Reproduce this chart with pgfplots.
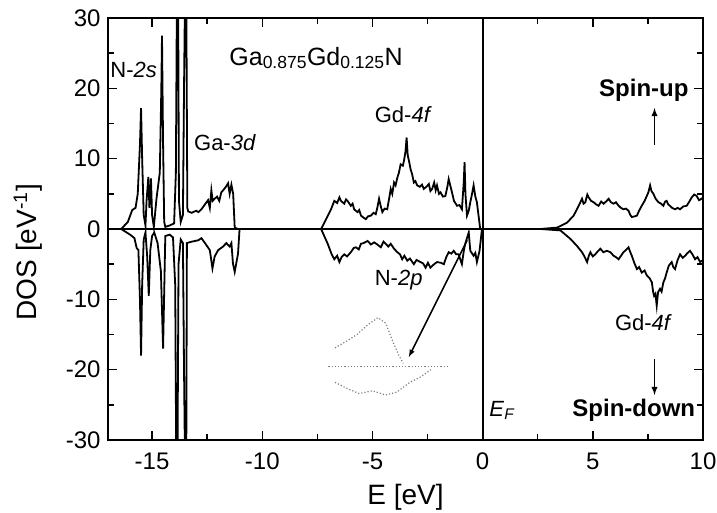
\documentclass[border=0pt]{standalone}
\usepackage{pgfplots}
\pgfplotsset{compat=1.18}
\usepackage{fontspec}
\setmainfont{Liberation Sans}

\begin{document}
\begin{tikzpicture}
\begin{axis}[
    name=ax,
    width=595pt, height=422pt, scale only axis,
    xmin=-17, xmax=10, ymin=-30, ymax=30,
    xtick={-15,-10,...,10}, ytick={-30,-20,...,30},
    minor x tick num=1, minor y tick num=1,
    tick align=inside,
    major tick length=9pt, minor tick length=6pt,
    axis line style={line width=1.8pt},
    every tick/.style={line width=1.5pt, black},
    tick label style={font=\fontsize{24}{28}\selectfont},
    /pgf/number format/assume math mode=true,
    xticklabel style={yshift=-9pt},
    yticklabel style={xshift=-4pt},
    xlabel={E [eV]},
    ylabel={DOS [eV\textsuperscript{-1}]},
    label style={font=\fontsize{28}{32}\selectfont},
    xlabel style={yshift=-8pt},
    ylabel style={at={(ticklabel cs:0.445)}, yshift=17pt},
]
% spin-up
\addplot[black, line width=1.8pt] coordinates {
(-17,0) (-16.4,0) (-16.1,1.0) (-15.9,2.7) (-15.75,3.0) (-15.65,5) (-15.55,12) (-15.5,17.2) (-15.45,10) (-15.38,2)
(-15.3,0.5) (-15.25,4) (-15.17,7.4) (-15.12,3) (-15.05,7.2) (-15.0,2) (-14.92,0.3) (-14.8,4.3) (-14.65,8)
(-14.58,20) (-14.55,27.5) (-14.5,12) (-14.45,1) (-14.4,0.3) (-14.2,0.5) (-14.0,0.8) (-13.92,8) (-13.87,35)
(-13.82,35) (-13.78,4) (-13.7,1) (-13.6,2) (-13.55,20) (-13.5,35) (-13.45,35) (-13.4,3) (-13.36,2.5)
(-13.2,2.3) (-13.0,2.6) (-12.9,2.4) (-12.76,2.8) (-12.6,3.5) (-12.46,4.1) (-12.38,3.0) (-12.31,5.5)
(-12.25,4.0) (-12.16,4.3) (-12.05,4.6) (-11.95,4.0) (-11.86,5.2) (-11.75,5.6) (-11.65,6.0) (-11.55,6.5)
(-11.48,5.0) (-11.4,6.3) (-11.32,5.0) (-11.25,0.2) (-11.1,0)
(-7.33,0) (-7.10,1.4) (-6.88,2.8) (-6.73,4.0) (-6.6,3.7) (-6.50,4.5) (-6.43,4.0) (-6.28,3.6) (-6.2,4.2) (-6.13,4.0)
(-5.98,3.3) (-5.9,3.6) (-5.83,2.8) (-5.68,2.4) (-5.6,2.7) (-5.52,1.9) (-5.4,1.6) (-5.30,1.4) (-5.2,1.8) (-5.07,1.9)
(-4.95,2.3) (-4.85,2.1) (-4.78,3.0) (-4.70,4.3) (-4.62,3.2) (-4.55,2.4) (-4.45,2.9) (-4.33,2.8) (-4.25,4.2)
(-4.17,5.7) (-4.1,5.0) (-4.02,6.6) (-3.95,6.2) (-3.87,7.3) (-3.8,8.0) (-3.72,9.2) (-3.62,9.0) (-3.57,9.7) (-3.5,11) (-3.45,13.0)
(-3.4,10.5) (-3.33,9.5) (-3.27,8.5) (-3.2,7.8) (-3.12,6.6) (-3.05,6.8) (-2.97,6.2) (-2.85,6.0) (-2.75,6.3) (-2.67,5.7)
(-2.55,6.0) (-2.44,6.4) (-2.37,5.4) (-2.29,5.7) (-2.2,6.6) (-2.13,5.5) (-2.07,6.2) (-1.98,5.0) (-1.91,5.2)
(-1.8,4.6) (-1.69,4.7) (-1.6,6.0) (-1.54,7.1) (-1.47,6.2) (-1.39,5.2) (-1.3,4.0) (-1.16,3.3) (-1.05,3.4)
(-0.94,2.8) (-0.86,6.5) (-0.82,9.5) (-0.78,5.0) (-0.71,1.9) (-0.63,2.6) (-0.56,3.8) (-0.48,5.0) (-0.41,6.2)
(-0.33,4.6) (-0.26,3.8) (-0.18,1.8) (-0.11,0)
(2.62,0) (3.38,0.2) (3.83,0.9) (4.13,1.9) (4.36,3.3) (4.51,4.3) (4.58,3.6) (4.66,3.8) (4.75,4.9) (4.81,4.5)
(4.92,4.0) (5.04,3.8) (5.15,3.5) (5.26,3.3) (5.38,3.9) (5.49,3.6) (5.6,3.9) (5.72,4.3) (5.82,3.8) (5.94,3.6)
(6.05,3.8) (6.17,3.3) (6.28,3.0) (6.39,2.8) (6.5,2.9) (6.62,2.6) (6.7,2.0) (6.77,1.7) (6.9,1.8) (7.00,1.9)
(7.1,2.6) (7.22,3.3) (7.35,4.0) (7.45,4.7) (7.52,5.2) (7.60,6.2) (7.66,5.4) (7.75,5.0) (7.85,4.3) (7.98,3.8)
(8.1,3.6) (8.20,3.3) (8.28,3.9) (8.35,4.0) (8.42,3.5) (8.50,3.3) (8.6,3.0) (8.73,2.8) (8.85,3.0) (8.96,2.8)
(9.1,3.2) (9.26,3.3) (9.38,3.9) (9.49,4.5) (9.6,4.9) (9.71,4.7) (9.82,4.1) (9.94,4.3) (10,4.5)
};
% spin-down
\addplot[black, line width=1.8pt] coordinates {
(-17,0) (-16.4,0) (-16.0,-0.8) (-15.8,-1.3) (-15.7,-2.7) (-15.62,-3) (-15.55,-10) (-15.5,-18.0) (-15.45,-8)
(-15.38,-1.5) (-15.3,-0.5) (-15.22,-4) (-15.15,-9.5) (-15.08,-3) (-15.0,-1) (-14.9,-0.5) (-14.75,-2)
(-14.6,-6) (-14.5,-17.0) (-14.45,-9) (-14.4,-1) (-14.2,-0.8) (-14.05,-1.2) (-13.95,-8) (-13.9,-35)
(-13.85,-35) (-13.8,-5) (-13.7,-1.5) (-13.6,-2) (-13.55,-20) (-13.5,-35) (-13.45,-35) (-13.42,-2.0)
(-13.2,-1.8) (-12.9,-1.6) (-12.76,-1.3) (-12.6,-2.0) (-12.38,-3.0) (-12.26,-5.6) (-12.16,-3.9)
(-12.0,-3.0) (-11.78,-2.5) (-11.63,-2.0) (-11.48,-2.5) (-11.4,-2.0) (-11.33,-4.9) (-11.25,-6.1)
(-11.1,-3.5) (-11.03,0)
(-7.33,0) (-7.03,-2.1) (-6.85,-3.6) (-6.73,-4.3) (-6.6,-3.8) (-6.50,-4.7) (-6.4,-4.0) (-6.28,-3.6) (-6.15,-3.9)
(-5.98,-3.3) (-5.85,-2.7) (-5.75,-2.6) (-5.62,-2.9) (-5.52,-2.1) (-5.4,-2.0) (-5.22,-1.7) (-5.07,-2.2)
(-4.92,-1.9) (-4.78,-2.2) (-4.62,-2.6) (-4.5,-1.8) (-4.40,-2.1) (-4.28,-2.5) (-4.17,-2.1) (-4.02,-2.8)
(-3.87,-3.3) (-3.75,-3.6) (-3.65,-4.3) (-3.55,-3.8) (-3.42,-4.5) (-3.3,-4.2) (-3.12,-5.0) (-3.0,-4.4)
(-2.82,-4.7) (-2.7,-4.9) (-2.59,-5.5) (-2.48,-4.8) (-2.37,-5.5) (-2.2,-5.0) (-2.07,-4.7) (-1.9,-4.8)
(-1.76,-5.0) (-1.65,-4.0) (-1.54,-3.3) (-1.42,-3.5) (-1.31,-3.1) (-1.2,-3.6) (-1.09,-3.6) (-0.94,-5.0)
(-0.85,-3.0) (-0.79,-2.1) (-0.63,-0.5) (-0.56,-3.1) (-0.41,-3.8) (-0.33,-3.4) (-0.26,-4.7) (-0.14,-3.1) (-0.03,0)
(2.62,0) (3.53,-0.2) (3.98,-1.4) (4.28,-2.4) (4.51,-3.3) (4.62,-3.9) (4.74,-4.7) (4.82,-3.8) (4.89,-3.3)
(5.0,-3.9) (5.11,-3.6) (5.22,-3.2) (5.34,-2.8) (5.48,-3.3) (5.64,-3.1) (5.8,-3.3) (5.94,-3.8) (6.05,-4.0)
(6.17,-4.3) (6.28,-3.8) (6.39,-3.3) (6.5,-3.0) (6.62,-2.6) (6.7,-3.3) (6.77,-3.8) (6.88,-4.8) (7.00,-5.7)
(7.1,-5.4) (7.22,-6.2) (7.35,-5.9) (7.45,-6.6) (7.58,-7.0) (7.68,-7.6) (7.74,-9.0) (7.78,-9.5) (7.84,-9.2)
(7.90,-10.9) (7.96,-9.0) (8.05,-8.5) (8.12,-8.9) (8.20,-7.6) (8.28,-7.0) (8.35,-6.2) (8.45,-5.2)
(8.58,-4.7) (8.65,-5.4) (8.73,-5.7) (8.85,-4.4) (8.96,-3.6) (9.08,-4.1) (9.19,-3.8) (9.3,-3.4) (9.41,-3.1)
(9.52,-3.6) (9.64,-4.3) (9.75,-4.0) (9.87,-4.7) (10,-4.4)
};
% inset (dotted enlargement)
\addplot[gray, dotted, line width=1.2pt] coordinates {
(-7.0,-19.6) (-1.6,-19.6)
};
\addplot[gray, dotted, line width=1.2pt] coordinates {
(-6.7,-16.9) (-6.2,-16.0) (-5.7,-15.0) (-5.2,-13.6) (-4.75,-12.6) (-4.4,-13.4) (-4.1,-15.8) (-3.8,-18.0) (-3.6,-19.1)
};
\addplot[gray, dotted, line width=1.2pt] coordinates {
(-6.7,-21.8) (-6.2,-22.6) (-5.6,-23.4) (-5.0,-23.0) (-4.4,-23.6) (-3.9,-23.2) (-3.3,-21.8) (-2.8,-21.0) (-2.35,-20.0)
};
\draw[black, line width=1.6pt] (axis cs:-17,0) -- (axis cs:10,0);
\draw[black, line width=2pt] (axis cs:0,-30) -- (axis cs:0,30);
\draw[-latex, line width=1.5pt] (axis cs:-0.7,-1.6) -- (axis cs:-3.35,-18.2);
\draw[-latex, line width=1.8pt] (axis cs:7.8,12) -- (axis cs:7.8,17.2);
\draw[-latex, line width=1.8pt] (axis cs:7.8,-18.5) -- (axis cs:7.8,-23.6);
% labels
\node[anchor=base west, inner sep=0pt, font=\fontsize{25}{29}\selectfont] at (axis cs:-11.5,23.3)
  {Ga\textsubscript{0.875}Gd\textsubscript{0.125}N};
\node[anchor=base west, inner sep=0pt, font=\fontsize{22}{26}\selectfont] at (axis cs:-16.9,21.6) {N-\textit{2s}};
\node[anchor=base west, inner sep=0pt, font=\fontsize{22}{26}\selectfont] at (axis cs:-13.1,11.2) {Ga-\textit{3d}};
\node[anchor=base west, inner sep=0pt, font=\fontsize{22}{26}\selectfont] at (axis cs:-4.9,15.2) {Gd-\textit{4f}};
\node[anchor=base west, inner sep=0pt, font=\fontsize{22}{26}\selectfont] at (axis cs:-4.9,-8.1) {N-\textit{2p}};
\node[anchor=base west, inner sep=0pt, font=\fontsize{22}{26}\selectfont] at (axis cs:6.0,-14.4) {Gd-\textit{4f}};
\node[anchor=base west, inner sep=0pt, font=\fontsize{22}{26}\selectfont] at (axis cs:0.3,-26.6) {\textit{E}\textsubscript{\textit{F}}};
\node[anchor=base east, inner sep=0pt, font=\bfseries\fontsize{24}{28}\selectfont] at (axis cs:9.35,18.8) {Spin-up};
\node[anchor=base east, inner sep=0pt, font=\bfseries\fontsize{24}{28}\selectfont] at (axis cs:9.65,-26.7) {Spin-down};
\end{axis}
\pgfresetboundingbox
\path (ax.south west) ++(-108pt,-73pt) rectangle ++(717pt,513pt);
\end{tikzpicture}
\end{document}
